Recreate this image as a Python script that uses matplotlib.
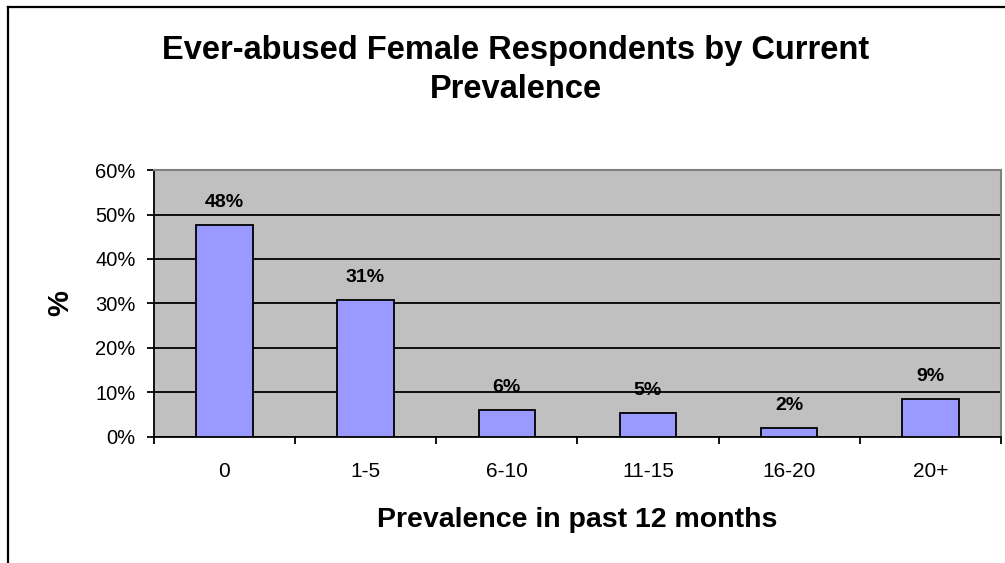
import matplotlib

matplotlib.use('Agg')
import matplotlib.pyplot as plt
from matplotlib.lines import Line2D
from matplotlib.ticker import FuncFormatter, MultipleLocator

categories = ['0', '1-5', '6-10', '11-15', '16-20', '20+']
values = [47.7, 30.8, 6.0, 5.4, 1.9, 8.6]  # percent of respondents
labels = ['48%', '31%', '6%', '5%', '2%', '9%']

plt.rcParams['font.family'] = ['Liberation Sans', 'DejaVu Sans']

fig = plt.figure(figsize=(10.05, 5.63), dpi=100)
ax = fig.add_axes([0.153, 0.224, 0.843, 0.474])
ax.set_facecolor('#c0c0c0')

x = range(len(categories))
ax.bar(x, values, width=0.4, color='#9999ff', edgecolor='black', linewidth=1.3, zorder=3)
for i, (v, lab) in enumerate(zip(values, labels)):
    ax.annotate(lab, (i, v), xytext=(0, 13), textcoords='offset points', ha='center', va='baseline',
                fontsize=14, fontweight='bold', zorder=4)

ax.set_ylim(0, 60)
ax.set_xlim(-0.5, len(categories) - 0.5)
ax.yaxis.set_major_locator(MultipleLocator(10))
ax.yaxis.set_major_formatter(FuncFormatter(lambda v, p: '%d%%' % v))
ax.yaxis.grid(True, color='black', linewidth=1.3, zorder=1)

# category labels in the middle, ticks on the boundaries
ax.set_xticks(list(x))
ax.set_xticklabels(categories, fontsize=15)
ax.tick_params(axis='x', length=0, pad=18)
ax.set_xticks([i - 0.5 for i in range(len(categories) + 1)], minor=True)
ax.tick_params(axis='x', which='minor', length=5, width=1.3, direction='out')
ax.tick_params(axis='y', length=5, width=1.3, labelsize=14.5, pad=8)

for side in ['left', 'bottom']:
    ax.spines[side].set_linewidth(1.3)
for side in ['top', 'right']:
    ax.spines[side].set_color('#808080')
    ax.spines[side].set_linewidth(1.5)

ax.set_xlabel('Prevalence in past 12 months', fontsize=20.5, fontweight='bold', labelpad=19)
ax.set_ylabel('%', fontsize=21, fontweight='bold')
ax.yaxis.set_label_coords(-0.094, 0.5)

fig.text(0.513, 0.937, 'Ever-abused Female Respondents by Current\nPrevalence', ha='center', va='top',
         fontsize=23.5, fontweight='bold', linespacing=1.33)

# chart area border (left and top edge)
fig.add_artist(Line2D([0.0075, 0.0075], [0.0, 0.987], color='black', linewidth=1.6))
fig.add_artist(Line2D([0.0075, 1.0], [0.987, 0.987], color='black', linewidth=1.6))

plt.savefig('out.png', dpi=100)
plt.close()
